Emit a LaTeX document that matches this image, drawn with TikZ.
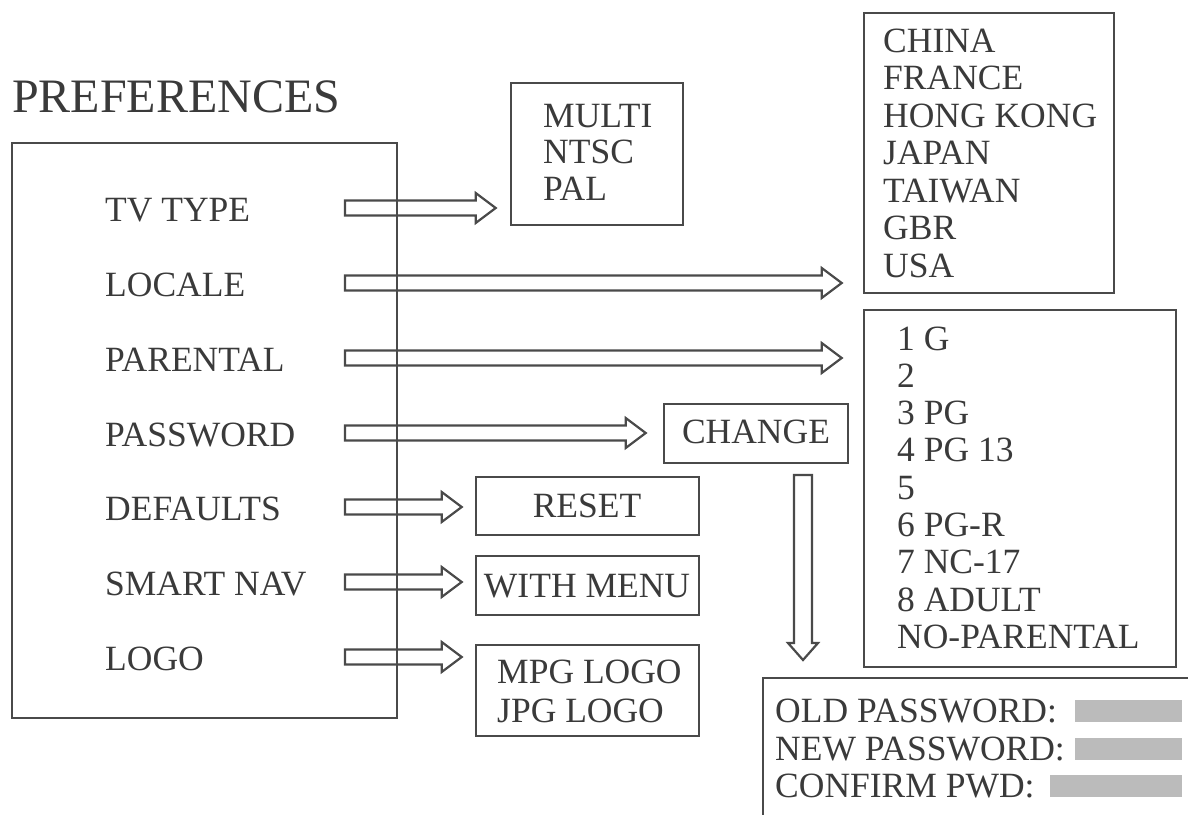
\documentclass[tikz,border=0pt]{standalone}
\usepackage{fontspec}
\setmainfont{Liberation Serif}
\usetikzlibrary{calc,fit}
\definecolor{ink}{HTML}{3A3A3A}
\definecolor{edge}{HTML}{4A4A4A}
\definecolor{bar}{HTML}{BBBBBB}
\tikzset{
  box/.style={draw=edge, line width=2.6pt, inner sep=0pt},
  bar/.style={fill=bar, draw=none, inner sep=0pt},
  txt/.style={text=ink, font=\fontsize{35.5}{40}\selectfont, inner sep=0pt, anchor=base west},
  arr/.style={draw=edge, line width=2.2pt, line join=miter},
}
% horizontal hollow arrow: start coordinate, target node, gap before target
\newcommand\harrow[3]{%
  \draw[arr] let \p1=(#1), \p2=(#2.west) in
    (\x1,\y1+7.5pt) -- (\x2-#3-20pt,\y1+7.5pt) -- (\x2-#3-20pt,\y1+15pt)
    -- (\x2-#3,\y1) -- (\x2-#3-20pt,\y1-15pt) -- (\x2-#3-20pt,\y1-7.5pt)
    -- (\x1,\y1-7.5pt) -- cycle;}
\begin{document}
\begin{tikzpicture}[x=1pt,y=-1pt]
\useasboundingbox (0,0) rectangle (1188,814);
\fill[white] (0,0) rectangle (1188,814);
\clip (0,0) rectangle (1188,814);

% title
\node[txt, font=\fontsize{48}{52}\selectfont] (pref) at (12,112) {PREFERENCES};

% main box and items
\node[box, fit={(12,143) (397,718)}] (main) {};
\node[txt] (tv)   at (105,221) {TV TYPE};
\node[txt] (loc)  at (105,296) {LOCALE};
\node[txt] (par)  at (105,371) {PARENTAL};
\node[txt] (pwd)  at (105,446) {PASSWORD};
\node[txt] (def)  at (105,520) {DEFAULTS};
\node[txt] (nav)  at (105,595) {SMART NAV};
\node[txt] (logo) at (105,670) {LOGO};

% option boxes
\node[box, fit={(511,83) (683,225)}] (multi) {};
\node[txt] (m1) at (543,127) {MULTI};
\node[txt] (m2) at (543,163.5) {NTSC};
\node[txt] (m3) at (543,200) {PAL};

\node[box, fit={(864,13) (1114,293)}] (country) {};
\foreach \t [count=\i] in {CHINA,FRANCE,HONG KONG,JAPAN,TAIWAN,GBR,USA}
  \node[txt] (c\i) at (883,{52+37.5*(\i-1)}) {\t};

\node[box, fit={(864,310) (1176,667)}] (rating) {};
\foreach \t [count=\i] in {1 G,2,3 PG,4 PG 13,5,6 PG-R,7 NC-17,8 ADULT,NO-PARENTAL}
  \node[txt] (r\i) at (897,{350+37.3*(\i-1)}) {\t};

\node[box, fit={(664,404) (848,463)}] (change) {};
\node[txt, anchor=base] (chg) at (756,443) {CHANGE};

\node[box, fit={(476,477) (699,535)}] (reset) {};
\node[txt, anchor=base] (rst) at (587,517) {RESET};

\node[box, fit={(476,556) (699,615)}] (menu) {};
\node[txt, anchor=base] (wm) at (587,597) {WITH MENU};

\node[box, fit={(476,645) (699,736)}] (logos) {};
\node[txt] (l1) at (497,683) {MPG LOGO};
\node[txt] (l2) at (497,722) {JPG LOGO};

\node[box, fit={(763,678) (1200,830)}] (pwbox) {};
\node[txt] (p1) at (775,722) {OLD PASSWORD:};
\node[txt] (p2) at (775,760) {NEW PASSWORD:};
\node[txt] (p3) at (775,797) {CONFIRM PWD:};
\node[bar, fit={(1075,700) (1182,722)}] (b1) {};
\node[bar, fit={(1075,738) (1182,760)}] (b2) {};
\node[bar, fit={(1050,775) (1182,797)}] (b3) {};

% arrows
\coordinate (s1) at (345,208);
\coordinate (s2) at (345,283);
\coordinate (s3) at (345,358);
\coordinate (s4) at (345,433);
\coordinate (s5) at (345,507);
\coordinate (s6) at (345,582);
\coordinate (s7) at (345,657);
\harrow{s1}{multi}{14pt}
\harrow{s2}{country}{21pt}
\harrow{s3}{rating}{21pt}
\harrow{s4}{change}{17pt}
\harrow{s5}{reset}{13pt}
\harrow{s6}{menu}{13pt}
\harrow{s7}{logos}{13pt}

% vertical arrow from CHANGE to the password box
\coordinate (vtop) at (803,475);
\coordinate (vtip) at (803,660);
\draw[arr] let \p1=(vtop), \p2=(vtip) in
  (\x1-9pt,\y1) -- (\x1+9pt,\y1) -- (\x1+9pt,\y2+17pt) -- (\x1+15pt,\y2+17pt)
  -- (\x1,\y2) -- (\x1-15pt,\y2+17pt) -- (\x1-9pt,\y2+17pt) -- cycle;
\end{tikzpicture}
\end{document}
